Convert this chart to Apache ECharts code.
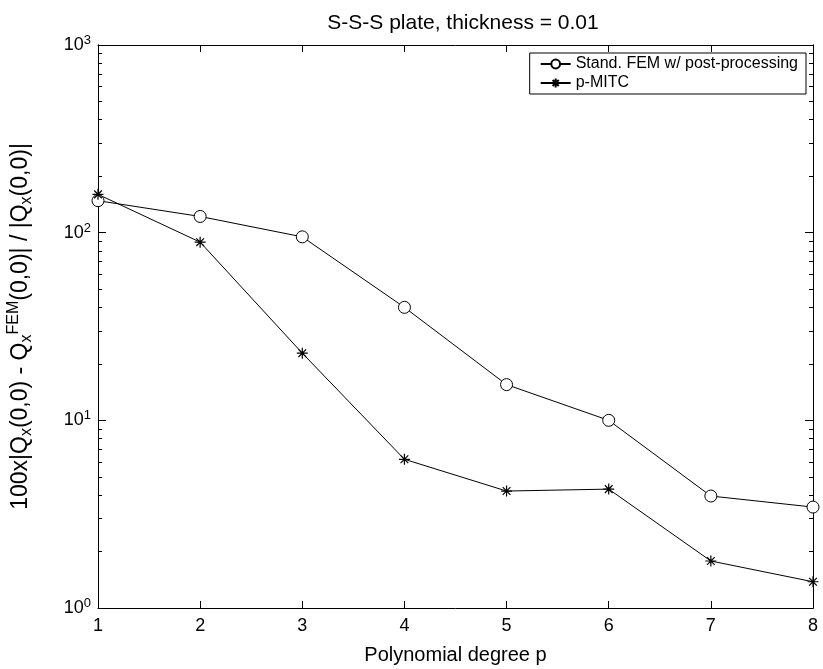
<!DOCTYPE html>
<html>
<head>
<meta charset="utf-8">
<script src="https://cdn.jsdelivr.net/npm/echarts@6/dist/echarts.min.js"></script>
<style>
  html, body { margin: 0; padding: 0; background: #fff; }
  #chart { width: 823px; height: 669px; }
</style>
</head>
<body>
<div id="chart"></div>
<script>
// polynomial degree
var degrees = [1, 2, 3, 4, 5, 6, 7, 8]
// relative error (%)
var femPost = [148, 122, 95, 40, 15.5, 10, 3.95, 3.45]
var pMitc = [160, 89, 22.8, 6.2, 4.2, 4.3, 1.78, 1.38]
var yMajor = [1, 10, 100, 1000]
var yMinor = [2, 3, 4, 5, 6, 7, 8, 9, 20, 30, 40, 50, 60, 70, 80, 90, 200, 300, 400, 500, 600, 700, 800, 900]

var font = 'Liberation Sans, Arial, Helvetica, sans-serif'
var chart = echarts.init(document.getElementById('chart'))

// asterisk marker (+ and x)
var star = 'path://M0,-5L0,5M-5,0L5,0M-3.5,-3.5L3.5,3.5M-3.5,3.5L3.5,-3.5'

function logAxis (pos, ticks, len, showLabel) {
  return {
    type: 'log',
    logBase: 10,
    min: 1,
    max: 1000,
    position: pos,
    axisLine: { show: true, lineStyle: { color: '#000', width: 1 } },
    axisTick: { show: true, inside: true, length: len, customValues: ticks, lineStyle: { color: '#000', width: 1 } },
    axisLabel: {
      show: showLabel,
      customValues: yMajor,
      margin: 7,
      fontFamily: font,
      fontSize: 18,
      color: '#000',
      formatter: function (v) { return '10{sup|' + Math.round(Math.log10(v)) + '}' },
      rich: { sup: { fontSize: 13, fontFamily: font, color: '#000', verticalAlign: 'top', padding: [0, 0, 9, 0] } }
    },
    splitLine: { show: false }
  }
}

var option = {
  backgroundColor: '#fff',
  animation: false,
  title: {
    text: 'S-S-S plate, thickness = 0.01',
    left: 458,
    textAlign: 'center',
    top: 8,
    textStyle: { fontFamily: font, fontSize: 21, fontWeight: 'normal', color: '#000' }
  },
  legend: {
    right: 17,
    top: 53,
    orient: 'vertical',
    align: 'left',
    itemWidth: 30,
    itemHeight: 11,
    itemGap: 3,
    padding: [3, 8, 3, 10],
    backgroundColor: '#fff',
    borderColor: '#000',
    borderWidth: 1,
    borderRadius: 0,
    textStyle: { fontFamily: font, fontSize: 16, color: '#000' },
    data: ['Stand. FEM w/ post-processing', 'p-MITC']
  },
  grid: { left: 98, right: 10, top: 45, bottom: 61, outerBoundsMode: 'none' },
  xAxis: [
    {
      type: 'value',
      min: 1,
      max: 8,
      interval: 1,
      position: 'bottom',
      name: 'Polynomial degree p',
      nameLocation: 'middle',
      nameGap: 37,
      nameTextStyle: { fontFamily: font, fontSize: 20, color: '#000' },
      axisLine: { lineStyle: { color: '#000', width: 1 } },
      axisTick: { inside: true, length: 7, lineStyle: { color: '#000' } },
      axisLabel: { fontFamily: font, fontSize: 18, color: '#000', margin: 9 },
      splitLine: { show: false }
    },
    {
      type: 'value',
      min: 1,
      max: 8,
      interval: 1,
      position: 'top',
      axisLine: { lineStyle: { color: '#000', width: 1 } },
      axisTick: { inside: true, length: 7, lineStyle: { color: '#000' } },
      axisLabel: { show: false },
      splitLine: { show: false }
    }
  ],
  yAxis: [
    Object.assign(logAxis('left', yMajor, 8, true), {
      name: '100x|Q{sub|x}(0,0) - Q{sub|x}{sup|FEM}(0,0)| / |Q{sub|x}(0,0)|',
      nameLocation: 'middle',
      nameGap: 63,
      nameTextStyle: {
        fontFamily: font,
        fontSize: 23,
        color: '#000',
        rich: {
          sub: { fontSize: 16, fontFamily: font, color: '#000', padding: [12, 0, 0, 0] },
          sup: { fontSize: 16, fontFamily: font, color: '#000', padding: [0, 0, 13, 0] }
        }
      }
    }),
    logAxis('left', yMinor, 4, false),
    logAxis('right', yMajor, 8, false),
    logAxis('right', yMinor, 4, false)
  ],
  series: [
    {
      name: 'Stand. FEM w/ post-processing',
      type: 'line',
      xAxisIndex: 0,
      yAxisIndex: 0,
      data: degrees.map(function (d, i) { return [d, femPost[i]] }),
      symbol: 'circle',
      symbolSize: 12,
      lineStyle: { color: '#000', width: 1 },
      itemStyle: { color: '#fff', borderColor: '#000', borderWidth: 1 }
    },
    {
      name: 'p-MITC',
      type: 'line',
      xAxisIndex: 0,
      yAxisIndex: 0,
      data: degrees.map(function (d, i) { return [d, pMitc[i]] }),
      symbol: star,
      symbolSize: 11,
      lineStyle: { color: '#000', width: 1 },
      itemStyle: { color: '#000', borderColor: '#000', borderWidth: 1.2 }
    }
  ]
}

chart.setOption(option)
</script>
</body>
</html>
